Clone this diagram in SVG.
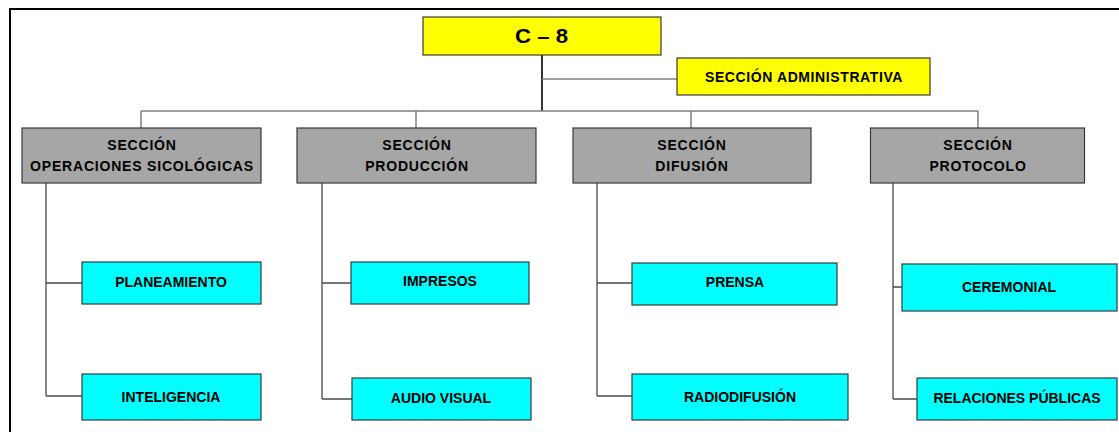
<svg xmlns="http://www.w3.org/2000/svg" width="1119" height="432" viewBox="0 0 1119 432">
<style>
text{font-family:"Liberation Sans",Arial,sans-serif;font-weight:bold;fill:#000;text-anchor:middle}
.box{stroke:#3a3a3a;stroke-width:1.2}
.y{fill:#ffff00}
.g{fill:#a6a6a6}
.c{fill:#00ffff}
.t14{font-size:14px}
.tg{font-size:14px;letter-spacing:0.8px}
.ta{font-size:14px;letter-spacing:0.6px}
.main{stroke:#333;stroke-width:2;fill:none}
.bus{stroke:#7f7f7f;stroke-width:1.5;fill:none}
.sub{stroke:#4a4a4a;stroke-width:1.3;fill:none}
</style>
<rect x="0" y="0" width="1119" height="432" fill="#fff"/>
<rect x="10" y="9" width="1200" height="500" fill="none" stroke="#000" stroke-width="2"/>
<g id="connectors">
<path class="main" d="M542 55V111"/>
<path class="bus" d="M542 79H677"/>
<path class="bus" d="M141 111H978M141 111V128M416 111V128M691 111V128M978 111V128"/>
<path class="sub" d="M46 183V396M46 283H82M46 396H82"/>
<path class="sub" d="M322 183V399M322 283H351M322 399H352"/>
<path class="sub" d="M597 183V396M597 283H632M597 396H632"/>
<path class="sub" d="M893 183V399M893 287H902M893 399H917"/>
</g>
<g id="c8"><rect class="box y" x="423" y="17" width="238" height="38"/><text x="541.5" y="42.5" style="font-size:20px" textLength="53" lengthAdjust="spacingAndGlyphs">C – 8</text></g>
<g id="admin"><rect class="box y" x="677" y="58" width="253" height="37"/><text class="ta" x="804" y="82">SECCIÓN ADMINISTRATIVA</text></g>
<g id="sec-ops"><rect class="box g" x="22" y="128" width="239" height="55"/><text class="tg" x="142" y="150">SECCIÓN</text><text class="tg" x="142" y="170.5">OPERACIONES SICOLÓGICAS</text></g>
<g id="sec-prod"><rect class="box g" x="297" y="128" width="239" height="55"/><text class="tg" x="417" y="150">SECCIÓN</text><text class="tg" x="417" y="170.5">PRODUCCIÓN</text></g>
<g id="sec-dif"><rect class="box g" x="573" y="128" width="238" height="55"/><text class="tg" x="692" y="150">SECCIÓN</text><text class="tg" x="692" y="170.5">DIFUSIÓN</text></g>
<g id="sec-prot"><rect class="box g" x="870.5" y="128" width="214" height="55"/><text class="tg" x="978" y="150">SECCIÓN</text><text class="tg" x="978" y="170.5">PROTOCOLO</text></g>
<g id="planeamiento"><rect class="box c" x="82" y="262" width="179" height="42"/><text class="t14" x="171" y="287">PLANEAMIENTO</text></g>
<g id="inteligencia"><rect class="box c" x="82" y="374" width="179" height="46"/><text class="t14" x="171" y="401.5">INTELIGENCIA</text></g>
<g id="impresos"><rect class="box c" x="351" y="262" width="178" height="42"/><text class="t14" x="440" y="286">IMPRESOS</text></g>
<g id="audiovisual"><rect class="box c" x="352" y="378" width="179" height="42"/><text class="t14" x="441" y="403">AUDIO VISUAL</text></g>
<g id="prensa"><rect class="box c" x="632" y="263" width="205" height="42"/><text class="t14" x="735" y="287">PRENSA</text></g>
<g id="radiodifusion"><rect class="box c" x="632" y="374" width="216" height="46"/><text class="t14" x="740" y="401.5">RADIODIFUSIÓN</text></g>
<g id="ceremonial"><rect class="box c" x="902" y="264" width="215" height="47"/><text class="t14" x="1009" y="291.5">CEREMONIAL</text></g>
<g id="relaciones"><rect class="box c" x="917" y="378" width="200" height="42"/><text class="t14" x="1017" y="403">RELACIONES PÚBLICAS</text></g>
</svg>
